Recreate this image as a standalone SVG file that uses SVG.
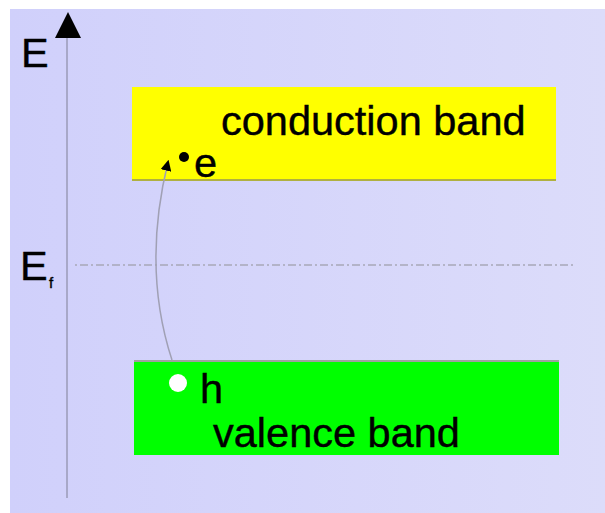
<svg xmlns="http://www.w3.org/2000/svg" width="605" height="513" viewBox="0 0 605 513">
<defs>
<linearGradient id="bg" x1="0" y1="0" x2="1" y2="0">
<stop offset="0" stop-color="#d0d0fb"/>
<stop offset="1" stop-color="#dcdcfa"/>
</linearGradient>
<marker id="ah" viewBox="0 0 10 10" refX="8" refY="5" markerWidth="11" markerHeight="11" markerUnits="userSpaceOnUse" orient="auto">
<path d="M0,0 L10,5 L0,10 z" fill="#000"/>
</marker>
</defs>
<style>
text{font-family:"Liberation Sans",Arial,sans-serif;fill:#000;stroke:#000;stroke-width:0.4}
.lbl{font-size:41.5px}
</style>
<rect x="0" y="0" width="605" height="513" fill="#fff"/>
<rect x="10" y="9" width="595" height="504" fill="url(#bg)"/>
<g id="axis">
<line x1="67" y1="36" x2="67" y2="498" stroke="#a8a8c8" stroke-width="2"/>
<path d="M68,12 L55,38 L81,38 z" fill="#000"/>
<text class="lbl" x="21" y="67">E</text>
</g>
<g id="fermi">
<line x1="75" y1="265" x2="575" y2="265" stroke="#a8a8b8" stroke-width="1.5" stroke-dasharray="2,3,8,3"/>
<text class="lbl" x="20" y="280">E</text>
<text x="49" y="288" style="font-size:15px">f</text>
</g>
<g id="conduction">
<rect x="132" y="87" width="424" height="93" fill="#ffff00"/>
<line x1="132" y1="180" x2="556" y2="180" stroke="#b0b040" stroke-width="2"/>
<text class="lbl" x="221" y="135">conduction band</text>
</g>
<g id="valence">
<line x1="134" y1="361" x2="559" y2="361" stroke="#a0a0a0" stroke-width="2"/>
<rect x="134" y="362" width="425" height="93" fill="#00ff00"/>
<text class="lbl" x="213" y="447">valence band</text>
</g>
<g id="electron">
<circle cx="184" cy="157" r="5" fill="#000"/>
<text class="lbl" x="194" y="177">e</text>
</g>
<g id="hole">
<circle cx="178" cy="383" r="9" fill="#fff"/>
<text class="lbl" x="200" y="403">h</text>
</g>
<g id="connectors">
<path d="M172,360 Q142,268 168,162" fill="none" stroke="#a0a0b4" stroke-width="1.5" marker-end="url(#ah)"/>
</g>
</svg>
